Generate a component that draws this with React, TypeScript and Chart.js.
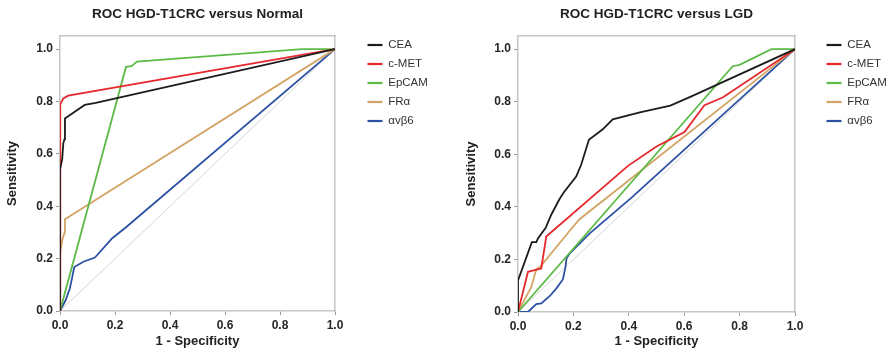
import React, { useEffect, useRef } from 'react';
import { Chart, registerables } from 'chart.js';

Chart.register(...registerables);

type Pt = [number, number];

const seriesLabels = ['CEA', 'c-MET', 'EpCAM', 'FRα', 'αvβ6'];
const seriesColors = ['#1c1c1c', '#e6272b', '#5cba47', '#d3a466', '#2c51a4'];
const tickValues = [0, 0.2, 0.4, 0.6, 0.8, 1.0];
const chartTitles = ['ROC HGD-T1CRC versus Normal', 'ROC HGD-T1CRC versus LGD'];
const xAxisTitle = '1 - Specificity';
const yAxisTitle = 'Sensitivity';

const diagonal: Pt[] = [[0, 0], [1, 1]];

// HGD-T1CRC versus Normal
const normalCEA: Pt[] = [[0, 0], [0, 0.54], [0.008, 0.58], [0.012, 0.64], [0.016, 0.655], [0.018, 0.735], [0.055, 0.762], [0.09, 0.787], [0.13, 0.795], [1, 1]];
const normalCMET: Pt[] = [[0, 0], [0, 0.6], [0.002, 0.79], [0.012, 0.812], [0.03, 0.822], [1, 1]];
const normalEpCAM: Pt[] = [[0, 0], [0.24, 0.932], [0.26, 0.935], [0.28, 0.952], [0.88, 1], [1, 1]];
const normalFRa: Pt[] = [[0, 0], [0, 0.22], [0.008, 0.27], [0.017, 0.3], [0.018, 0.35], [1, 1]];
const normalAVB6: Pt[] = [[0, 0], [0.02, 0.04], [0.036, 0.087], [0.052, 0.168], [0.085, 0.188], [0.127, 0.204], [0.19, 0.278], [0.24, 0.32], [1, 1]];

// HGD-T1CRC versus LGD
const lgdCEA: Pt[] = [[0, 0], [0, 0.12], [0.05, 0.266], [0.066, 0.266], [0.072, 0.28], [0.1, 0.32], [0.12, 0.37], [0.15, 0.43], [0.165, 0.455], [0.21, 0.515], [0.228, 0.56], [0.256, 0.655], [0.306, 0.695], [0.342, 0.733], [0.44, 0.759], [0.55, 0.785], [0.63, 0.822], [1, 1]];
const lgdCMET: Pt[] = [[0, 0], [0.036, 0.153], [0.063, 0.16], [0.084, 0.165], [0.102, 0.287], [0.397, 0.556], [0.5, 0.63], [0.601, 0.685], [0.673, 0.787], [0.739, 0.816], [1, 1]];
const lgdEpCAM: Pt[] = [[0, 0], [0.775, 0.935], [0.8, 0.94], [0.915, 1], [1, 1]];
const lgdFRa: Pt[] = [[0, 0], [0.048, 0.095], [0.066, 0.163], [0.08, 0.172], [0.186, 0.308], [0.222, 0.353], [1, 1]];
const lgdAVB6: Pt[] = [[0, 0], [0.036, 0], [0.066, 0.03], [0.084, 0.033], [0.114, 0.06], [0.138, 0.089], [0.162, 0.124], [0.171, 0.169], [0.175, 0.203], [0.186, 0.222], [0.26, 0.3], [0.41, 0.435], [1, 1]];

const FONT = "'Liberation Sans', Arial, Helvetica, sans-serif";
const FRAME = '#c6c6c6';

interface Layout {
  width: number;
  yWidth: number;
  yTitlePad: number;
  xHeight: number;
  gap: number;
  padRight: number;
}

function buildConfig(title: string, series: Pt[][], lay: Layout): any {
  const datasets: any[] = series.map((pts, i) => ({
    label: seriesLabels[i],
    data: pts.map(([x, y]) => ({ x, y })),
    borderColor: seriesColors[i],
    backgroundColor: seriesColors[i],
    borderWidth: 1.8,
    pointRadius: 0,
    tension: 0,
    fill: false,
  }));
  datasets.push({
    label: 'reference',
    data: diagonal.map(([x, y]) => ({ x, y })),
    borderColor: '#d6d6d6',
    backgroundColor: '#d6d6d6',
    borderWidth: 1,
    pointRadius: 0,
    tension: 0,
    fill: false,
  });

  const tickFont = { family: FONT, size: 12, weight: 'bold' as const };
  const titleFont = { family: FONT, size: 13, weight: 'bold' as const };

  return {
    type: 'line',
    data: { datasets },
    options: {
      responsive: false,
      animation: false,
      devicePixelRatio: 1,
      layout: { padding: { left: 0, right: lay.padRight, top: 0, bottom: 0 } },
      plugins: {
        title: {
          display: true,
          text: title,
          fullSize: false,
          color: '#222',
          font: { family: FONT, size: 13.5, weight: 'bold' },
          padding: { top: 6, bottom: 13.8 },
        },
        legend: {
          position: 'right',
          align: 'start',
          maxWidth: 70,
          title: { display: true, text: ' ', font: { family: FONT, size: 10 }, padding: { top: 19.75, bottom: 0 } },
          labels: {
            boxWidth: 15,
            boxHeight: 2.2,
            padding: 7.5,
            color: '#333',
            font: { family: FONT, size: 11.5 },
            generateLabels: (chart: any) =>
              Chart.defaults.plugins.legend.labels
                .generateLabels(chart)
                .filter((it: any) => it.datasetIndex < seriesLabels.length)
                .map((it: any) => ({ ...it, lineWidth: 0 })),
          },
        },
        tooltip: { enabled: false },
      },
      scales: {
        x: {
          type: 'linear',
          position: 'bottom',
          min: 0,
          max: 1,
          afterBuildTicks: (s: any) => { s.ticks = tickValues.map((v) => ({ value: v })); },
          afterFit: (s: any) => { s.height = lay.xHeight; },
          ticks: { callback: (v: any) => Number(v).toFixed(1), font: tickFont, color: '#262626', padding: 3, maxRotation: 0 },
          grid: { display: true, drawOnChartArea: false, drawTicks: true, tickLength: 4, color: '#9a9a9a' },
          border: { display: true, color: FRAME, width: 1.5 },
          title: { display: true, text: xAxisTitle, color: '#222', font: titleFont, padding: { top: 0, bottom: 3 } },
        },
        y: {
          type: 'linear',
          position: 'left',
          min: 0,
          max: 1.05,
          afterBuildTicks: (s: any) => { s.ticks = tickValues.map((v) => ({ value: v })); },
          afterFit: (s: any) => { s.width = lay.yWidth; },
          ticks: { callback: (v: any) => Number(v).toFixed(1), font: tickFont, color: '#262626', padding: 3 },
          grid: { display: true, drawOnChartArea: false, drawTicks: true, tickLength: 4, color: '#9a9a9a' },
          border: { display: true, color: FRAME, width: 1.5 },
          title: { display: true, text: yAxisTitle, color: '#222', font: titleFont, padding: { top: lay.yTitlePad, bottom: 0 } },
        },
        yRight: {
          type: 'linear',
          position: 'right',
          display: true,
          min: 0,
          max: 1.05,
          afterFit: (s: any) => { s.width = lay.gap; },
          ticks: { display: false },
          grid: { display: true, drawOnChartArea: false, drawTicks: false, color: 'rgba(0,0,0,0)' },
          border: { display: true, color: FRAME, width: 1.5 },
        },
        xTop: {
          type: 'linear',
          position: 'top',
          display: true,
          min: 0,
          max: 1,
          afterFit: (s: any) => { s.height = 0; },
          ticks: { display: false },
          grid: { display: true, drawOnChartArea: false, drawTicks: false, color: 'rgba(0,0,0,0)' },
          border: { display: true, color: FRAME, width: 1.5 },
        },
      },
    },
  };
}

function RocChart(props: { title: string; series: Pt[][]; lay: Layout; left: number }) {
  const ref = useRef<HTMLCanvasElement>(null);
  useEffect(() => {
    const chart = new Chart(ref.current as HTMLCanvasElement, buildConfig(props.title, props.series, props.lay));
    return () => chart.destroy();
  }, []);
  return (
    <canvas
      ref={ref}
      width={props.lay.width}
      height={352}
      style={{ position: 'absolute', left: props.left, top: 0, width: props.lay.width, height: 352 }}
    />
  );
}

export default function App() {
  return (
    <div style={{ position: 'absolute', left: 0, top: 0, width: 893, height: 352, overflow: 'hidden', background: '#fff' }}>
      <RocChart
        title={chartTitles[0]}
        series={[normalCEA, normalCMET, normalEpCAM, normalFRa, normalAVB6]}
        lay={{ width: 446, yWidth: 60, yTitlePad: 5, xHeight: 41, gap: 25, padRight: 16 }}
        left={0}
      />
      <RocChart
        title={chartTitles[1]}
        series={[lgdCEA, lgdCMET, lgdEpCAM, lgdFRa, lgdAVB6]}
        lay={{ width: 453, yWidth: 78, yTitlePad: 23.5, xHeight: 40, gap: 24, padRight: 4 }}
        left={440}
      />
    </div>
  );
}
